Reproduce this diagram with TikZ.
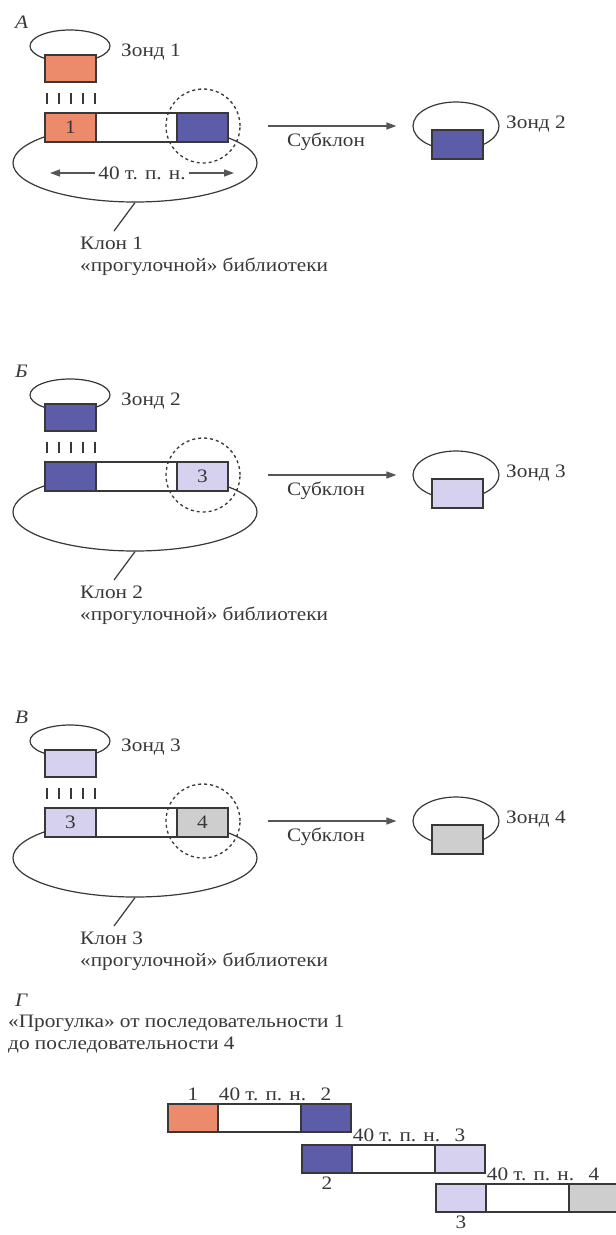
\documentclass[tikz,border=0pt]{standalone}
\usepackage{fontspec}
\setmainfont{Liberation Serif}[FakeStretch=1.12]
\usetikzlibrary{positioning,arrows.meta,shapes.geometric}
\definecolor{salmon}{HTML}{EC8B6C}
\definecolor{wblue}{HTML}{5C5CA8}
\definecolor{wlilac}{HTML}{D5D1EE}
\definecolor{wgrey}{HTML}{CECECE}
\definecolor{ink}{HTML}{383838}

\begin{document}
\begin{tikzpicture}[x=1pt,y=-1pt,>={Triangle[length=10pt,width=7pt]},
  every node/.style={text=ink,font=\fontsize{19}{22}\selectfont},
  seg/.style={draw=ink,line width=1.3pt,inner sep=0pt,outer sep=0pt},
  loopline/.style={draw=ink,line width=1.2pt,inner sep=0pt},
  lbl/.style={anchor=west,inner sep=0pt},
  secname/.style={lbl,font=\fontsize{19}{22}\selectfont\itshape}]
\fill[white] (0,0) rectangle (616,1235);
\useasboundingbox (0,0) rectangle (616,1235);

% panels A, B, C
\foreach \yb/\sec/\ca/\cb/\na/\nb/\k/\kk in {113/А/salmon/wblue/1//1/2, 462/Б/wblue/wlilac//3/2/3, 808/В/wlilac/wgrey/3/4/3/4}{
  \node[secname] (sec\k) at (15,{\yb-91}) {\sec};
  \node[ellipse,loopline,minimum width=244pt,minimum height=78pt] (pl\k) at (135,{\yb+50}) {};
  % probe
  \node[ellipse,loopline,minimum width=80pt,minimum height=32pt] (lp\k) at (70,{\yb-67}) {};
  \node[seg,fill=\ca,minimum width=51pt,minimum height=27pt,anchor=north west] (pr\k) at (45,{\yb-58}) {};
  \node[lbl] (zl\k) at (121,{\yb-61}) {Зонд \k};
  \foreach \d in {0,...,4}
    \draw[ink,line width=1.8pt] ({47+12*\d},{\yb-20}) -- ++(0,11);
  % clone insert
  \node[seg,fill=\ca,minimum width=51pt,minimum height=29pt,anchor=north west] (la\k) at (45,\yb) {\na};
  \node[seg,fill=white,minimum width=81pt,minimum height=29pt,right=0pt of la\k] (ma\k) {};
  \node[seg,fill=\cb,minimum width=51pt,minimum height=29pt,right=0pt of ma\k] (ra\k) {\nb};
  \node[circle,draw=ink,line width=1.3pt,dash pattern=on 3pt off 3pt,minimum size=74pt] (c\k) at (203,{\yb+13}) {};
  \coordinate (kt\k) at (114,{\yb+118});
  \draw[loopline] (pl\k.south) -- (kt\k);
  \node[anchor=north west,align=left,inner sep=0pt] (kl\k) at (80,{\yb+124}) {Клон \k\\«прогулочной» библиотеки};
  % subclone
  \node[ellipse,loopline,minimum width=86pt,minimum height=48pt] (rl\k) at (456,{\yb+13}) {};
  \node[seg,fill=\cb,minimum width=51pt,minimum height=29pt,anchor=north west] (rp\k) at (432,{\yb+17}) {};
  \node[lbl] (zr\k) at (506,{\yb+11}) {Зонд \kk};
  \draw[->,ink!85,line width=1.3pt] ([xshift=27pt]c\k.east) -- ([xshift=-16pt]rl\k.west)
    node[midway,below=3pt,xshift=-6pt] {Субклон};
}

\node (kb) at (142,173) {40 т. п. н.};
\coordinate (kbl) at (50,173);
\coordinate (kbr) at (234,173);
\draw[->,ink!85,line width=1.3pt] (kb) -- (kbl);
\draw[->,ink!85,line width=1.3pt] (kb) -- (kbr);

% walk
\node[secname] (sec4) at (15,1000) {Г};
\node[anchor=north west,align=left,inner sep=0pt] (walk) at (8,1015) {«Прогулка» от последовательности 1\\до последовательности 4};
\foreach \x/\y/\ca/\cb/\i/\j in {168/1104/salmon/wblue/1/2, 302/1145/wblue/wlilac/2/3, 436/1184/wlilac/wgrey/3/4}{
  \node[seg,fill=\ca,minimum width=50pt,minimum height=28pt,anchor=north west] (wa\i) at (\x,\y) {};
  \node[seg,fill=white,minimum width=83pt,minimum height=28pt,right=0pt of wa\i] (wm\i) {};
  \node[seg,fill=\cb,minimum width=50pt,minimum height=28pt,right=0pt of wm\i] (wb\i) {};
  \node[above=0pt of wm\i,xshift=3pt] (wk\i) {40 т. п. н.};
  \node[above=0pt of wb\i] (wn\i) {\j};
}
\node[above=0pt of wa1] (wl1) {1};
\node[below=0pt of wa2] (wl2) {2};
\node[below=0pt of wa3] (wl3) {3};
\end{tikzpicture}
\end{document}
